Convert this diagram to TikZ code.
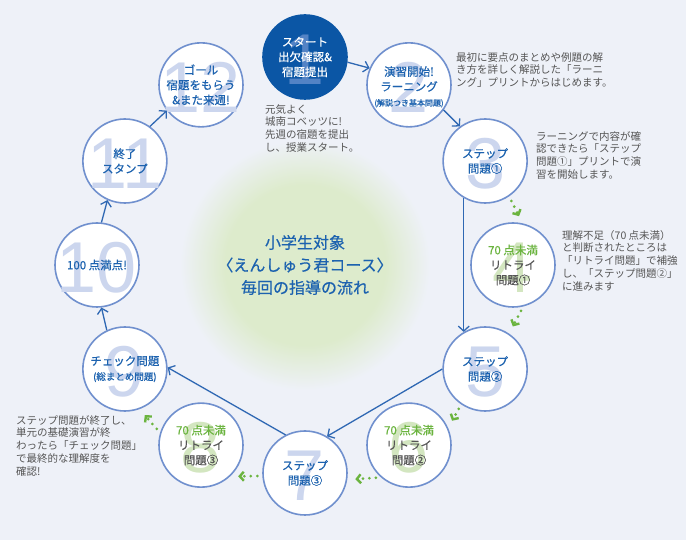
\documentclass[tikz,border=0pt]{standalone}
\usepackage{fontspec}
\setmainfont{Noto Sans CJK JP}
\newfontfamily\medfont{Noto Sans CJK JP}[FakeBold=0.5]
\newfontfamily\numfont{Liberation Sans}
\usepackage{xcolor}
\usetikzlibrary{arrows.meta}
\definecolor{bgcol}{HTML}{EEF1F8}
\definecolor{blobgreen}{HTML}{DDEBCC}
\definecolor{ringblue}{HTML}{7090CE}
\definecolor{startblue}{HTML}{0B56A5}
\definecolor{startdigit}{HTML}{5383C5}
\definecolor{digitblue}{HTML}{CCD6EE}
\definecolor{digitgreen}{HTML}{D3E6C0}
\definecolor{textblue}{HTML}{1C62AF}
\definecolor{arrowblue}{HTML}{2F68B3}
\definecolor{retrygreen}{HTML}{6BB43F}
\definecolor{retrygray}{HTML}{555555}
\definecolor{notegray}{HTML}{555555}
\pgfdeclareradialshading{blob}{\pgfpoint{0bp}{0bp}}{color(0bp)=(blobgreen); color(16bp)=(blobgreen); color(25bp)=(bgcol); color(50bp)=(bgcol)}

\begin{document}
\begin{tikzpicture}[x=1pt,y=1pt,
    ring/.style={circle,draw=ringblue,line width=1.6pt,fill=white,minimum size=84pt,inner sep=0pt},
    startring/.style={ring,draw=startblue,fill=startblue},
    digit/.style={font=\numfont\fontsize{72}{72}\selectfont,text=digitblue,inner sep=0pt,yshift=-3pt},
    retrydigit/.style={digit,text=digitgreen},
    steptext/.style={align=center,text=textblue,inner sep=0pt,font=\medfont\fontsize{11.5}{15}\selectfont},
    retrytext/.style={steptext,text=retrygray},
    note/.style={anchor=north west,align=left,text=notegray,inner sep=0pt,font=\fontsize{10.5}{12.8}\selectfont},
    flow/.style={draw=arrowblue,line width=1.3pt,-{Straight Barb[length=5pt,width=11pt]}},
    retry/.style={draw=retrygreen,line width=3pt,line cap=round,dash pattern=on 0pt off 6.5pt,shorten <=5pt,shorten >=8pt,-{Straight Barb[length=4pt,width=9pt,line width=2.4pt]}}
    ]
    \fill[bgcol] (-305,-275) rectangle (381,265);
    \shade[shading=blob] (0,0) circle (125);
    \node[align=center,text=textblue,font=\medfont\fontsize{16}{22.5}\selectfont] (title) at (0,0) {小学生対象\\〈えんしゅう君コース〉\\毎回の指導の流れ};

    \node[startring] (n1) at (90:208) {};
    \node[ring] (n2) at (60:208) {};
    \node[ring] (n3) at (30:208) {};
    \node[ring] (n4) at (0:208) {};
    \node[ring] (n5) at (-30:208) {};
    \node[ring] (n6) at (-60:208) {};
    \node[ring] (n7) at (-90:208) {};
    \node[ring] (n8) at (-120:208) {};
    \node[ring] (n9) at (-150:208) {};
    \node[ring] (n10) at (180:208) {};
    \node[ring] (n11) at (150:208) {};
    \node[ring] (n12) at (120:208) {};

    \node[digit,text=startdigit] (d1) at (n1) {1};
    \node[digit] (d2) at (n2) {2};
    \node[digit] (d3) at (n3) {3};
    \node[retrydigit] (d4) at (n4) {4};
    \node[digit] (d5) at (n5) {5};
    \node[retrydigit] (d6) at (n6) {6};
    \node[digit] (d7) at (n7) {7};
    \node[retrydigit] (d8) at (n8) {8};
    \node[digit] (d9) at (n9) {9};
    \node[digit] (d10) at (n10) {10};
    \node[digit] (d11) at (n11) {11};
    \node[digit] (d12) at (n12) {12};

    \node[steptext,text=white] (t1) at (n1) {スタート\\出欠確認\&\\宿題提出};
    \node[steptext] (t2) at ([yshift=-2pt]n2) {演習開始!\\ラーニング\\{\fontsize{8}{10}\selectfont (解説つき基本問題)}};
    \node[steptext] (t3) at (n3) {ステップ\\問題①};
    \node[retrytext] (t4) at (n4) {\textcolor{retrygreen}{70 点未満}\\リトライ\\問題①};
    \node[steptext] (t5) at (n5) {ステップ\\問題②};
    \node[retrytext] (t6) at (n6) {\textcolor{retrygreen}{70 点未満}\\リトライ\\問題②};
    \node[steptext] (t7) at (n7) {ステップ\\問題③};
    \node[retrytext] (t8) at (n8) {\textcolor{retrygreen}{70 点未満}\\リトライ\\問題③};
    \node[steptext] (t9) at (n9) {チェック問題\\{\fontsize{9.5}{12}\selectfont (総まとめ問題)}};
    \node[steptext] (t10) at (n10) {100 点満点!};
    \node[steptext] (t11) at (n11) {終了\\スタンプ};
    \node[steptext] (t12) at (n12) {ゴール\\宿題をもらう\\\&また来週!};

    \draw[flow] (n1.-7) -- (n2.157);
    \draw[flow] (n2.-36) -- (n3.126);
    \draw[flow] (n3.-120) -- (n5.120);
    \draw[flow] (n5.180) -- (n7.59);
    \draw[flow] (n7.117) -- (n9.2);
    \draw[flow] (n9.115) -- (n10.-84);
    \draw[flow] (n10.84) -- (n11.-114);
    \draw[flow] (n11.54) -- (n12.-143);

    \draw[retry] (n3.-56) -- (n4.77);
    \draw[retry] (n4.-76) -- (n5.56);
    \draw[retry] (n5.-124) -- (n6.24);
    \draw[retry] (n6.-131) -- (n7.-9);
    \draw[retry] (n7.184) -- (n8.-47);
    \draw[retry] (n8.163) -- (n9.-70);

    \node[note] (a1) at (-40,161) {元気よく\\城南コベッツに!\\先週の宿題を提出\\し、授業スタート。};
    \node[note] (a2) at (151,213) {最初に要点のまとめや例題の解\\き方を詳しく解説した「ラーニ\\ング」プリントからはじめます。};
    \node[note] (a3) at (231,134) {ラーニングで内容が確\\認できたら「ステップ\\問題①」プリントで演\\習を開始します。};
    \node[note] (a4) at (257,35) {理解不足（70 点未満）\\と判断されたところは\\「リトライ問題」で補強\\し、「ステップ問題②」\\に進みます};
    \node[note] (a9) at (-289,-150) {ステップ問題が終了し、\\単元の基礎演習が終\\わったら「チェック問題」\\で最終的な理解度を\\確認!};
\end{tikzpicture}
\end{document}
